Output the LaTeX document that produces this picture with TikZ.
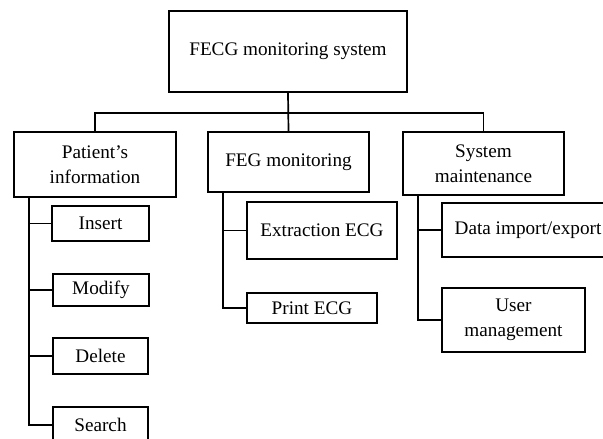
\documentclass[tikz,border=0pt]{standalone}
\usepackage{fontspec}
\setmainfont{Liberation Serif}
\begin{document}
\begin{tikzpicture}[x=1pt,y=-1pt,
  box/.style={draw,line width=1.7pt,inner sep=0pt,align=center,
    font=\fontsize{19.2}{25}\selectfont},
  conn/.style={line width=1.7pt}]
\useasboundingbox (0,0) rectangle (603,439);
\node[box,minimum width=238pt,minimum height=81pt] (top) at (288,51.5) {FECG monitoring system};
\node[box,minimum width=162pt,minimum height=65pt] (pat) at (95,164.5) {Patient's\\information};
\node[box,minimum width=161pt,minimum height=60pt] (feg) at (288.5,162) {FEG monitoring};
\node[box,minimum width=161pt,minimum height=63pt] (sys) at (483.5,163.5) {System\\maintenance};
\node[box,minimum width=97pt,minimum height=35pt] (ins) at (100.5,223.5) {Insert};
\node[box,minimum width=96pt,minimum height=32pt] (mod) at (101,290) {Modify};
\node[box,minimum width=95pt,minimum height=36pt] (del) at (100.5,356) {Delete};
\node[box,minimum width=95pt,minimum height=36pt] (sea) at (100.5,425) {Search};
\node[box,minimum width=150pt,minimum height=57pt] (ext) at (322,230.5) {Extraction ECG};
\node[box,minimum width=130pt,minimum height=30pt] (pri) at (312,308) {Print ECG};
\node[box,minimum width=172pt,minimum height=54pt] (dat) at (528,230) {Data import/export};
\node[box,minimum width=143pt,minimum height=64pt] (usr) at (513.5,320) {User\\management};
\coordinate (bus) at (0,113);
\coordinate (pv) at (29,0);
\coordinate (fv) at (223,0);
\coordinate (sv) at (418,0);
\draw[conn] (top.south) -- (feg.north);
\draw[conn] (pat.north) -- (pat.north |- bus) -- (sys.north |- bus) -- (sys.north);
\draw[conn] (pat.south -| pv) |- (sea.west);
\draw[conn] (pv |- ins) -- (ins.west);
\draw[conn] (pv |- mod) -- (mod.west);
\draw[conn] (pv |- del) -- (del.west);
\draw[conn] (feg.south -| fv) |- (pri.west);
\draw[conn] (fv |- ext) -- (ext.west);
\draw[conn] (sys.south -| sv) |- (usr.west);
\draw[conn] (sv |- dat) -- (dat.west);
\end{tikzpicture}
\end{document}
